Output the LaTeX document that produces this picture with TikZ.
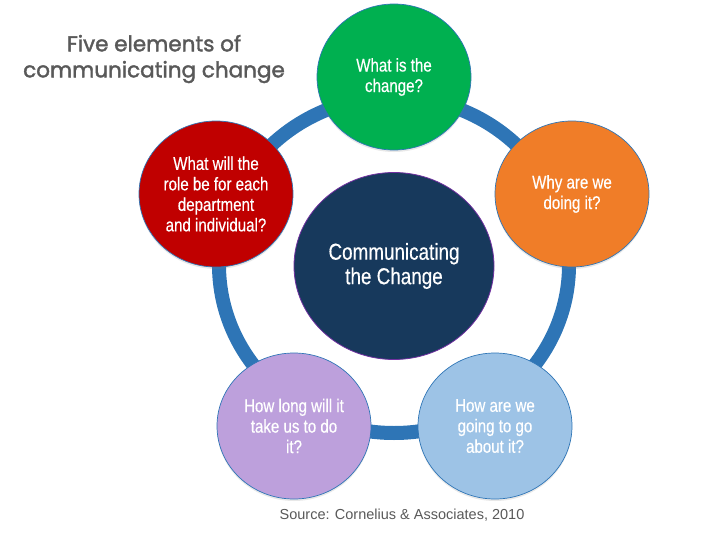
\documentclass[tikz,border=0pt]{standalone}
\usepackage{fontspec}
\setmainfont{Liberation Sans}
\newfontfamily\titlefont{Poppins}[FakeBold=1.8]
\newfontfamily\condfont{Liberation Sans}[FakeStretch=0.82, FakeBold=0.4]
\usepackage{xcolor}
\usetikzlibrary{shapes.geometric,shadows}

\definecolor{ringblue}{HTML}{2E75B6}
\definecolor{navy}{HTML}{17395C}
\definecolor{rimpurple}{HTML}{7030A0}
\definecolor{qgreen}{HTML}{00B050}
\definecolor{qorange}{HTML}{F07D28}
\definecolor{qsky}{HTML}{9DC3E6}
\definecolor{qlilac}{HTML}{BDA0DC}
\definecolor{qred}{HTML}{C00000}
\definecolor{textgray}{HTML}{595959}

\begin{document}
\begin{tikzpicture}[
  x=1pt, y=-1pt,
  bubble/.style={ellipse, draw=ringblue, line width=0.7pt, text=white, align=center,
    minimum width=154pt, minimum height=146pt, inner sep=0pt,
    font=\condfont\fontsize{18.4}{20.5}\selectfont,
    drop shadow={opacity=0.18, shadow xshift=0pt, shadow yshift=-2pt}},
  ring/.style={draw=ringblue, line width=14pt}
]
\useasboundingbox (0,0) rectangle (701,535);

% ring behind the five questions
\coordinate (mid) at (394,265);
\draw[ring] (mid) ellipse [x radius=175, y radius=168];

% the five questions
\node[bubble, fill=qgreen] (what) at (394,77) {What is the\\change?};
\node[bubble, fill=qorange] (why) at (572,194) {Why are we\\doing it?};
\node[bubble, fill=qsky] (how) at (495,426) {How are we\\going to go\\about it?};
\node[bubble, fill=qlilac] (long) at (294,426) {How long will it\\take us to do\\it?};
\node[bubble, fill=qred] (role) at (216,194) {What will the\\role be for each\\department\\and individual?};

% centre
\node[ellipse, fill=navy, draw=rimpurple, line width=0.8pt, text=white, align=center,
  minimum width=200pt, minimum height=187pt, inner sep=0pt,
  font=\condfont\fontsize{23}{24.5}\selectfont] (core) at (394,266) {Communicating\\the Change};

\node[font=\titlefont\fontsize{21.5}{26}\selectfont, text=textgray, align=center] (title) at (154,59)
  {Five elements of\\communicating change};
\node[font=\fontsize{14.5}{16}\selectfont, text=textgray] (src) at (402,515)
  {Source: Cornelius \& Associates, 2010};
\end{tikzpicture}
\end{document}
